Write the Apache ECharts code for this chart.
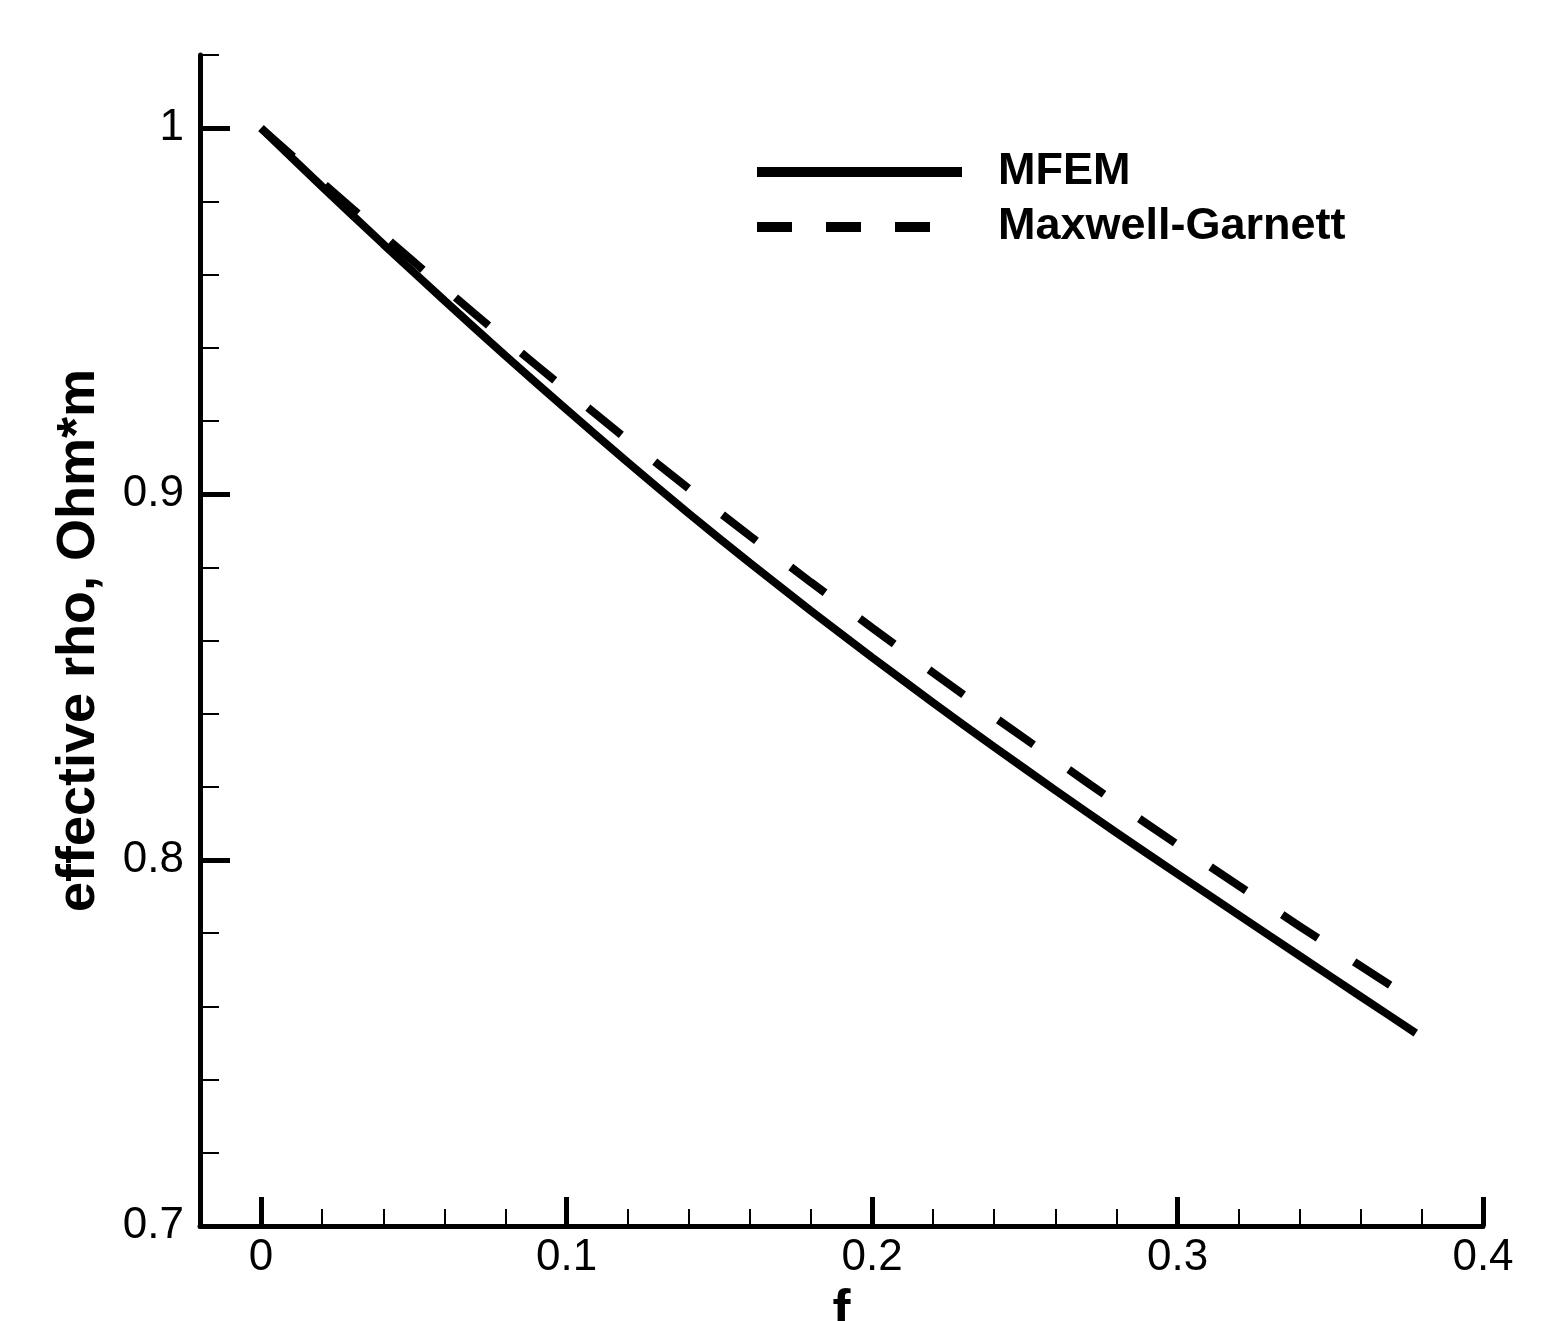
<!DOCTYPE html>
<html>
<head>
<meta charset="utf-8">
<script src="https://cdn.jsdelivr.net/npm/echarts@6/dist/echarts.min.js"></script>
<style>html,body{margin:0;padding:0;background:#fff}#c{width:1567px;height:1321px}</style>
</head>
<body>
<div id="c"></div>
<script>
// ---- data ----
const seriesNames = ['MFEM', 'Maxwell-Garnett'];
const fMFEM   = [0, 0.02, 0.04, 0.06, 0.08, 0.10, 0.12, 0.14, 0.16, 0.18, 0.20, 0.22, 0.24, 0.26, 0.28, 0.30, 0.32, 0.34, 0.36, 0.378];
const rhoMFEM = [1.0000, 0.9840, 0.9683, 0.9529, 0.9378, 0.9231, 0.9087, 0.8947, 0.8812, 0.8681, 0.8554, 0.8430, 0.8309, 0.8191, 0.8075, 0.7962, 0.7850, 0.7738, 0.7627, 0.7527];
const fMG     = [0, 0.02, 0.04, 0.06, 0.08, 0.10, 0.12, 0.14, 0.16, 0.18, 0.20, 0.22, 0.24, 0.26, 0.28, 0.30, 0.32, 0.34, 0.36, 0.37];
const rhoMG   = [1.0000, 0.9852, 0.9707, 0.9563, 0.9422, 0.9284, 0.9148, 0.9015, 0.8886, 0.8759, 0.8635, 0.8512, 0.8391, 0.8273, 0.8156, 0.8042, 0.7930, 0.7819, 0.7710, 0.7656];
const xMajorTicks = [0, 0.1, 0.2, 0.3, 0.4];
const xMinorTicks = [0, 0.02, 0.04, 0.06, 0.08, 0.1, 0.12, 0.14, 0.16, 0.18, 0.2, 0.22, 0.24, 0.26, 0.28, 0.3, 0.32, 0.34, 0.36, 0.38, 0.4];
const yMajorTicks = [0.7, 0.8, 0.9, 1];
const yMinorTicks = [0.72, 0.74, 0.76, 0.78, 0.8, 0.82, 0.84, 0.86, 0.88, 0.9, 0.92, 0.94, 0.96, 0.98, 1, 1.02];
const xTitle = 'f';
const yTitle = 'effective rho, Ohm*m';

const FONT = '"Liberation Sans", Arial, Helvetica, sans-serif';
const chart = echarts.init(document.getElementById('c'), null, {renderer: 'canvas'});

const xBase = {type: 'value', min: -0.02, max: 0.4, splitLine: {show: false}, gridIndex: 0};
const yBase = {type: 'value', min: 0.7, max: 1.02, splitLine: {show: false}, gridIndex: 0};

chart.setOption({
  backgroundColor: '#fff',
  animation: false,
  grid: {left: 200, right: 84, top: 55, bottom: 95, containLabel: false, outerBoundsMode: 'none'},
  legend: {
    orient: 'vertical', left: 752, top: 149, padding: 0,
    itemWidth: 205, itemHeight: 10, itemGap: 9,
    itemStyle: {color: '#000', opacity: 0},
    textStyle: {fontFamily: FONT, fontWeight: 'bold', fontSize: 45, color: '#000', lineHeight: 46, padding: [0, 0, 0, 31]},
    data: [
      {name: seriesNames[0], lineStyle: {width: 10, type: 'solid', color: '#000'}},
      {name: seriesNames[1], lineStyle: {width: 10, type: [35, 34], color: '#000'}}
    ]
  },
  xAxis: [
    Object.assign({}, xBase, {
      position: 'bottom',
      name: xTitle, nameLocation: 'middle', nameGap: 57,
      nameTextStyle: {fontFamily: FONT, fontWeight: 'bold', fontSize: 54, color: '#000', lineHeight: 54},
      axisLine: {show: true, onZero: false, lineStyle: {color: '#000', width: 5}},
      axisTick: {show: true, inside: true, length: 29, lineStyle: {color: '#000', width: 5}, customValues: xMajorTicks},
      axisLabel: {show: true, margin: 10, fontFamily: FONT, fontSize: 44, color: '#000', customValues: xMajorTicks,
        formatter: v => String(Math.round(v * 100) / 100)}
    }),
    Object.assign({}, xBase, {
      position: 'bottom',
      axisLine: {show: false, onZero: false},
      axisTick: {show: true, inside: true, length: 17, lineStyle: {color: '#000', width: 2}, customValues: xMinorTicks},
      axisLabel: {show: false}
    })
  ],
  yAxis: [
    Object.assign({}, yBase, {
      position: 'left',
      name: yTitle, nameLocation: 'middle', nameGap: 94, nameRotate: 90,
      nameTextStyle: {fontFamily: FONT, fontWeight: 'bold', fontSize: 54, color: '#000', lineHeight: 54},
      axisLine: {show: true, onZero: false, lineStyle: {color: '#000', width: 5}},
      axisTick: {show: true, inside: true, length: 30, lineStyle: {color: '#000', width: 5}, customValues: yMajorTicks},
      axisLabel: {show: true, margin: 16, fontFamily: FONT, fontSize: 44, color: '#000', customValues: yMajorTicks,
        formatter: v => String(Math.round(v * 100) / 100)}
    }),
    Object.assign({}, yBase, {
      position: 'left',
      axisLine: {show: false, onZero: false},
      axisTick: {show: true, inside: true, length: 19, lineStyle: {color: '#000', width: 2}, customValues: yMinorTicks},
      axisLabel: {show: false}
    })
  ],
  series: [
    {
      name: seriesNames[0], type: 'line', xAxisIndex: 0, yAxisIndex: 0,
      data: fMFEM.map((f, i) => [f, rhoMFEM[i]]),
      symbol: 'none', smooth: 0.2, clip: false,
      itemStyle: {color: '#000'},
      lineStyle: {color: '#000', width: 8, type: 'solid', cap: 'butt'}
    },
    {
      name: seriesNames[1], type: 'line', xAxisIndex: 0, yAxisIndex: 0,
      data: fMG.map((f, i) => [f, rhoMG[i]]),
      symbol: 'none', smooth: 0.2, clip: false,
      itemStyle: {color: '#000'},
      lineStyle: {color: '#000', width: 8, type: [43, 43], cap: 'butt'}
    }
  ]
});
</script>
</body>
</html>
